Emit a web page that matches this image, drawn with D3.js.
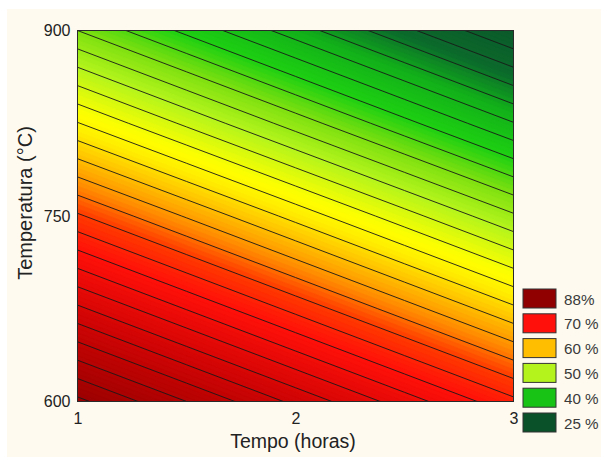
<!DOCTYPE html>
<html>
<head>
<meta charset="utf-8">
<script src="https://cdn.jsdelivr.net/npm/d3@7"></script>
<style>
  body { margin: 0; background: #fff; }
  svg { display: block; font-family: "Liberation Sans", Arial, sans-serif; }
</style>
</head>
<body>
<svg id="chart" width="601" height="457"></svg>
<script>
// values (rendimento %, estimated)
const timeHours = [1, 1.5, 2, 2.5, 3];
const tempLevels = [600, 675, 750, 825, 900];
const yield600 = [86.5, 82.0, 77.5, 73.0, 68.5];
const yield675 = [76.4, 71.9, 67.4, 62.9, 58.4];
const yield750 = [66.3, 61.8, 57.3, 52.8, 48.3];
const yield825 = [56.1, 51.6, 47.1, 42.6, 38.1];
const yield900 = [46.0, 41.5, 37.0, 32.5, 28.0];
const xTicks = [1, 2, 3];
const yTicks = [600, 750, 900];
const legendValues = [88, 70, 60, 50, 40, 25];
const legendLabels = ["88%", "70 %", "60 %", "50 %", "40 %", "25 %"];

const svg = d3.select('#chart');
const margin = { top: 30.5, right: 87.5, bottom: 55.5, left: 77.5 };
const W = 601, H = 457;

// page background (white strip on top / left like the original capture)
svg.append('rect').attr('width', W).attr('height', H).attr('fill', '#ffffff');
svg.append('rect').attr('x', 7).attr('y', 9).attr('width', W - 7).attr('height', H - 9).attr('fill', '#fefaf0');

const x = d3.scaleLinear().domain([1, 3]).range([margin.left, W - margin.right]);
const y = d3.scaleLinear().domain([600, 900]).range([H - margin.bottom, margin.top]);

const color = d3.scaleLinear()
  .domain([25, 33, 37, 42, 46, 50, 55, 57, 60, 63, 66, 70, 78, 88])
  .range(['#0a5028', '#0c6a2c', '#12b01a', '#1ed012', '#7ee010', '#b4f41c', '#ffff00', '#ffee00',
          '#ffbe00', '#ff8a00', '#ff3a00', '#ff100a', '#cc0404', '#900000'])
  .clamp(true);

// grid for d3.contours (row = temperature, col = time)
const rows = [yield600, yield675, yield750, yield825, yield900];
const nx = timeHours.length, ny = tempLevels.length;
const values = rows.flat();

// contour grid coords: sample i sits at i + 0.5
const gx = d3.scaleLinear().domain([0.5, nx - 0.5]).range([timeHours[0], timeHours[nx - 1]]);
const gy = d3.scaleLinear().domain([0.5, ny - 0.5]).range([tempLevels[0], tempLevels[ny - 1]]);
const proj = d3.geoTransform({
  point: function(px, py) { this.stream.point(x(gx(px)), y(gy(py))); }
});
const path = d3.geoPath(proj);

svg.append('clipPath').attr('id', 'plotClip')
  .append('rect')
  .attr('x', x(1)).attr('y', y(900))
  .attr('width', x(3) - x(1)).attr('height', y(600) - y(900));

const plot = svg.append('g').attr('clip-path', 'url(#plotClip)');

const lo = d3.min(values), hi = d3.max(values);
plot.append('rect')
  .attr('x', x(1)).attr('y', y(900))
  .attr('width', x(3) - x(1)).attr('height', y(600) - y(900))
  .attr('fill', color(lo));

// thin fill bands for the smooth colour ramp
const fillSteps = d3.range(Math.floor(lo), Math.ceil(hi) + 0.5, 0.5);
const fills = d3.contours().size([nx, ny]).thresholds(fillSteps)(values);
plot.append('g')
  .selectAll('path')
  .data(fills)
  .join('path')
    .attr('d', path)
    .attr('fill', d => color(d.value + 0.25))
    .attr('stroke', d => color(d.value + 0.25))
    .attr('stroke-width', 0.5);

// contour lines every 2 %
const lineSteps = d3.range(28, 88, 2);
const lines = d3.contours().size([nx, ny]).thresholds(lineSteps)(values);
plot.append('g')
  .selectAll('path')
  .data(lines)
  .join('path')
    .attr('d', path)
    .attr('fill', 'none')
    .attr('stroke', '#1a1a1a')
    .attr('stroke-width', 0.9);

// frame
svg.append('rect')
  .attr('x', x(1)).attr('y', y(900))
  .attr('width', x(3) - x(1)).attr('height', y(600) - y(900))
  .attr('fill', 'none').attr('stroke', '#2a2a2a').attr('stroke-width', 1);

// axes
const xAxis = svg.append('g')
  .attr('transform', `translate(0,${y(600)})`)
  .call(d3.axisBottom(x).tickValues(xTicks).tickFormat(d3.format('d')).tickSize(0).tickPadding(11));
const yAxis = svg.append('g')
  .attr('transform', `translate(${x(1)},0)`)
  .call(d3.axisLeft(y).tickValues(yTicks).tickFormat(d3.format('d')).tickSize(0).tickPadding(7));
[xAxis, yAxis].forEach(g => {
  g.select('.domain').remove();
  g.attr('font-size', 16).attr('font-family', '"Liberation Sans", Arial, sans-serif');
  g.selectAll('text').attr('fill', '#222');
});

svg.append('text')
  .attr('x', 293).attr('y', 448)
  .attr('text-anchor', 'middle')
  .attr('font-size', 19.5).attr('fill', '#222')
  .text('Tempo (horas)');

svg.append('text')
  .attr('transform', `translate(32,${(y(600) + y(900)) / 2 - 13}) rotate(-90)`)
  .attr('text-anchor', 'middle')
  .attr('font-size', 20).attr('fill', '#222')
  .text('Temperatura (°C)');

// legend
const legend = svg.append('g').attr('transform', 'translate(523,289)');
const item = legend.selectAll('g')
  .data(legendValues)
  .join('g')
    .attr('transform', (d, i) => `translate(0,${i * 24.8})`);
item.append('rect')
  .attr('width', 33).attr('height', 19)
  .attr('fill', d => color(d))
  .attr('stroke', '#333').attr('stroke-width', 1);
item.append('text')
  .attr('x', 41).attr('y', 15.5)
  .attr('font-size', 15.2).attr('fill', '#3a3a3a')
  .text((d, i) => legendLabels[i]);
</script>
</body>
</html>
